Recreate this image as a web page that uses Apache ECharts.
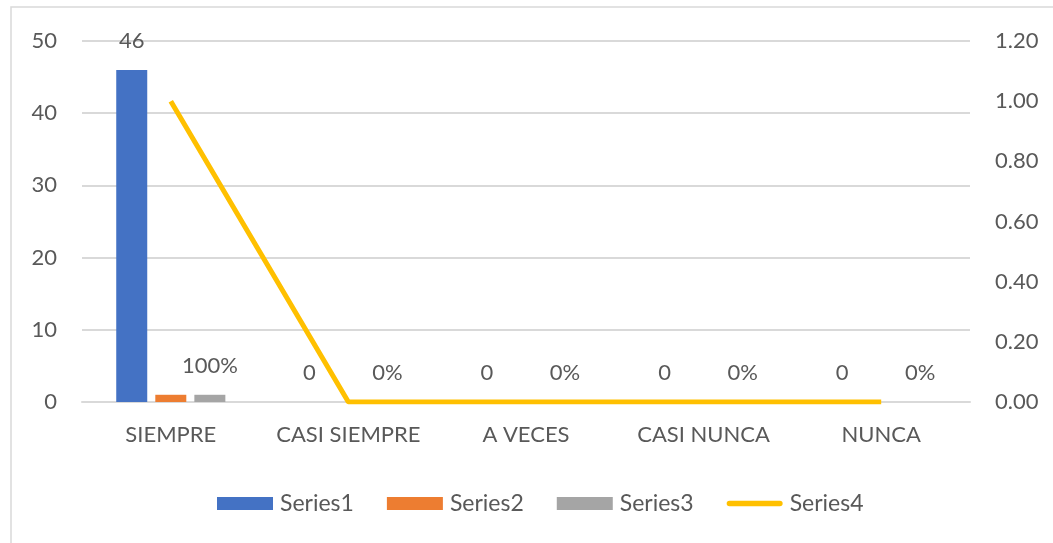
<!DOCTYPE html>
<html lang="es">
<head>
    <meta charset="UTF-8">
    <title>Frecuencia de respuestas</title>
    <script src="https://cdn.jsdelivr.net/npm/echarts@6/dist/echarts.min.js"></script>
    <style>
        html, body { margin: 0; padding: 0; background: #fff; }
    </style>
</head>
<body>
    <div id="main" style="width: 1053px; height: 543px;"></div>
    <script>
        // datos del gráfico
        const categories = ['SIEMPRE', 'CASI SIEMPRE', 'A VECES', 'CASI NUNCA', 'NUNCA']
        const series1 = [46, 0, 0, 0, 0]
        const series2 = [1, 0, 0, 0, 0]
        const series3 = [1, 0, 0, 0, 0]
        const series4 = [1, 0, 0, 0, 0]
        const leftTicks = { min: 0, max: 50, interval: 10 }
        const rightTicks = { min: 0, max: 1.2, interval: 0.2 }

        const font = 'Lato'
        const txt = '#595959'
        const grey = '#d9d9d9'

        const chart = echarts.init(document.getElementById('main'))

        const barLabel = {
            show: true,
            position: 'top',
            distance: 18,
            color: txt,
            fontFamily: font,
            fontSize: 22
        }

        const option = {
            animation: false,
            backgroundColor: '#fff',
            textStyle: { fontFamily: font },
            graphic: [{
                type: 'rect',
                shape: { x: 11, y: 7, width: 1100, height: 600 },
                style: { fill: 'none', stroke: grey, lineWidth: 1.5 },
                silent: true
            }],
            grid: { left: 82, right: 83, top: 41, bottom: 141 },
            legend: {
                left: 212,
                top: 487,
                itemWidth: 56,
                itemHeight: 13,
                itemGap: 33,
                textStyle: { color: txt, fontFamily: font, fontSize: 23, padding: [0, 0, 0, 2] },
                data: [
                    { name: 'Series1', icon: 'rect' },
                    { name: 'Series2', icon: 'rect' },
                    { name: 'Series3', icon: 'rect' },
                    { name: 'Series4', icon: 'path://M3,0 H57 A3,3 0 0 1 57,6 H3 A3,3 0 0 1 3,0 Z' }
                ]
            },
            xAxis: {
                type: 'category',
                data: categories,
                axisTick: { show: false },
                axisLine: { lineStyle: { color: grey, width: 2 } },
                axisLabel: { color: txt, fontFamily: font, fontSize: 22, margin: 22, interval: 0 }
            },
            yAxis: [
                {
                    type: 'value',
                    min: leftTicks.min,
                    max: leftTicks.max,
                    interval: leftTicks.interval,
                    axisLine: { show: false },
                    axisTick: { show: false },
                    splitLine: { lineStyle: { color: grey, width: 2 } },
                    axisLabel: { color: txt, fontFamily: font, fontSize: 22, margin: 25 }
                },
                {
                    type: 'value',
                    min: rightTicks.min,
                    max: rightTicks.max,
                    interval: rightTicks.interval,
                    axisLine: { show: false },
                    axisTick: { show: false },
                    splitLine: { show: false },
                    axisLabel: {
                        color: txt, fontFamily: font, fontSize: 22, margin: 25,
                        formatter: v => v.toFixed(2)
                    }
                }
            ],
            series: [
                {
                    name: 'Series1',
                    type: 'bar',
                    data: series1,
                    barWidth: 31,
                    barGap: '26%',
                    itemStyle: { color: '#4472C4' },
                    label: barLabel
                },
                {
                    name: 'Series2',
                    type: 'bar',
                    data: series2,
                    barWidth: 31,
                    barGap: '26%',
                    itemStyle: { color: '#ED7D31' }
                },
                {
                    name: 'Series3',
                    type: 'bar',
                    data: series3,
                    barWidth: 31,
                    barGap: '26%',
                    itemStyle: { color: '#A5A5A5' },
                    label: Object.assign({}, barLabel, {
                        formatter: p => Math.round(p.value * 100) + '%'
                    })
                },
                {
                    name: 'Series4',
                    type: 'line',
                    yAxisIndex: 1,
                    data: series4,
                    showSymbol: false,
                    symbol: 'none',
                    lineStyle: { color: '#FFC000', width: 5 },
                    itemStyle: { color: '#FFC000' }
                }
            ]
        }

        chart.setOption(option)
    </script>
</body>
</html>
